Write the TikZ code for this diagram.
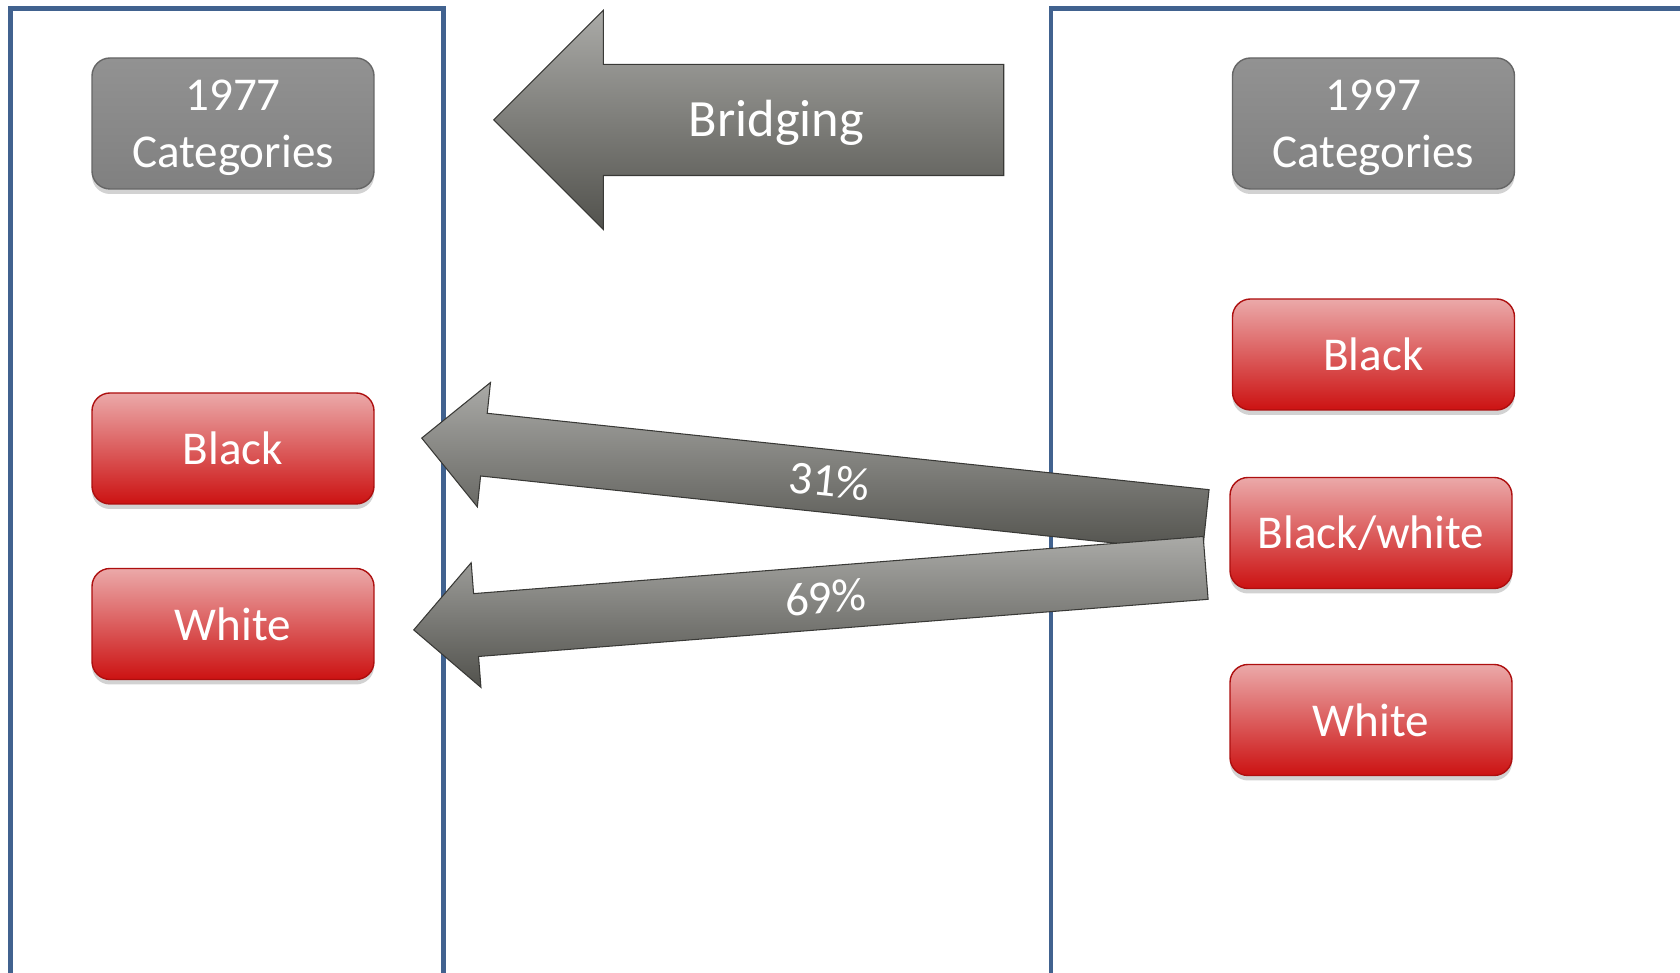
\documentclass[tikz,border=0pt]{standalone}
\usepackage{fontspec}
\setmainfont{Carlito}
\usetikzlibrary{shapes.arrows, shadows}
\definecolor{panelblue}{HTML}{41628F}
\definecolor{headtop}{HTML}{929292}
\definecolor{headbot}{HTML}{808080}
\definecolor{redtop}{HTML}{EBA9A9}
\definecolor{redmid}{HTML}{DE5E5E}
\definecolor{redbot}{HTML}{CC1212}
\definecolor{arrowtop}{HTML}{AAAAA7}
\definecolor{arrowmid}{HTML}{8C8C89}
\definecolor{arrowbot}{HTML}{52524D}
\tikzset{
    panel/.style={draw=panelblue, line width=1.3pt}, % the two open frames
    box/.style={rounded corners=1.8mm, text=white, align=center, minimum width=28.2mm,
        font=\fontsize{13.4}{16.2}\selectfont,
        drop shadow={shadow xshift=0mm, shadow yshift=-0.5mm, opacity=0.25, fill=black!70}},
    header/.style={box, top color=headtop, bottom color=headbot, draw=headbot!80!black, minimum height=13.1mm},
    category/.style={box, top color=redtop, middle color=redmid, bottom color=redbot, draw=redbot!85!black, minimum height=11.1mm},
    bigarrow/.style={single arrow, shape border rotate=180, single arrow tip angle=90, inner sep=0pt,
        top color=arrowtop, middle color=arrowmid, bottom color=arrowbot, draw=arrowbot!70!black, line width=0.3pt,
        text=white, font=\fontsize{13.4}{16}\selectfont,
        text height=4.62mm, text depth=1.58mm, % body of 6.2mm, caps centred
        minimum width=12.4mm, single arrow head extend=3.1mm, anchor=tip},
}
\begin{document}
\begin{tikzpicture}[x=0.1mm, y=-0.1mm]
\useasboundingbox (0,0) rectangle (1680,973);
% frames, open at the bottom and on the right
\draw[panel] (10.7,973) -- (10.7,8.6) -- (443.6,8.6) -- (443.6,973);
\draw[panel] (1051,973) -- (1051,8.6) -- (1680,8.6);

% the arrows
\coordinate (tipbridge) at (493,120);
\coordinate (tip31) at (421,438);
\coordinate (tip69) at (413,630);
\node[bigarrow, minimum height=51mm, minimum width=21.8mm, single arrow head extend=5.4mm,
    text height=7.19mm, text depth=3.81mm, font=\fontsize{14.9}{18}\selectfont] (bridge) at (tipbridge) {Bridging\hspace{2.2mm}};
\node[bigarrow, rotate=-6.04, minimum height=78.84mm] (arr31) at (tip31) {31\%};
\node[bigarrow, rotate=4.48, minimum height=79.44mm] (arr69) at (tip69) {69\%};

% category boxes
\node[header] (old) at (233,123.5) {\rule{0pt}{3.9mm}1977\\Categories};
\node[header] (new) at (1373.5,123.5) {\rule{0pt}{3.9mm}1997\\Categories};
\node[category] (oldblack) at (233,448.5) {Black};
\node[category] (oldwhite) at (233,624) {White};
\node[category] (newblack) at (1373.5,354.5) {Black};
\node[category] (newmixed) at (1371,533) {Black/white};
\node[category] (newwhite) at (1371,720) {White};
\end{tikzpicture}
\end{document}
